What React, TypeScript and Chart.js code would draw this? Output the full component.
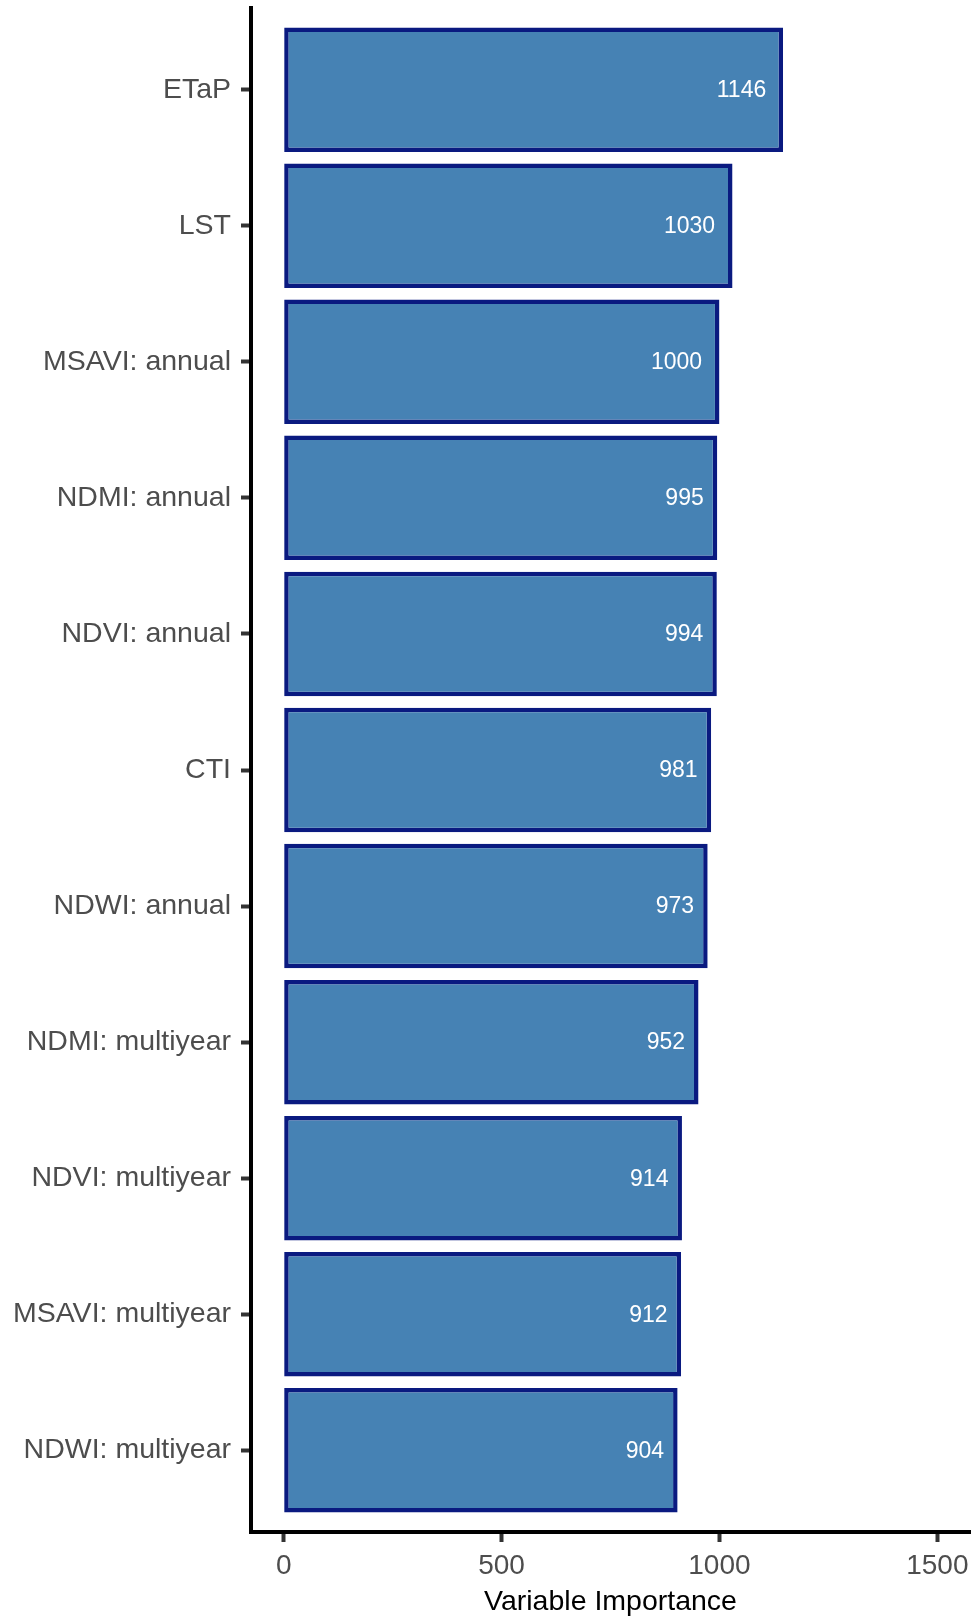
import React, { useEffect, useRef } from "react";
import { Chart, registerables } from "chart.js";

Chart.register(...registerables);

const categories = [
  "ETaP",
  "LST",
  "MSAVI: annual",
  "NDMI: annual",
  "NDVI: annual",
  "CTI",
  "NDWI: annual",
  "NDMI: multiyear",
  "NDVI: multiyear",
  "MSAVI: multiyear",
  "NDWI: multiyear",
];
const importance = [1146, 1030, 1000, 995, 994, 981, 973, 952, 914, 912, 904];
const xTicks = [0, 500, 1000, 1500];
const xTitle = "Variable Importance";

const FONT = "'Liberation Sans', Arial, Helvetica, sans-serif";

const valueLabels = {
  id: "valueLabels",
  afterDatasetsDraw(chart: any) {
    const ctx = chart.ctx;
    const meta = chart.getDatasetMeta(0);
    ctx.save();
    ctx.font = `23px ${FONT}`;
    ctx.fillStyle = "#ffffff";
    ctx.textAlign = "right";
    ctx.textBaseline = "middle";
    meta.data.forEach((bar: any, i: number) => {
      const txt = String(importance[i]);
      const w = ctx.measureText(txt).width;
      ctx.fillText(txt, bar.x - 0.3 * w - 2, bar.y + 1);
    });
    ctx.restore();
  },
};

export default function App() {
  const ref = useRef<HTMLCanvasElement | null>(null);
  useEffect(() => {
    if (!ref.current) return;
    const chart = new Chart(ref.current, {
      type: "bar",
      data: {
        datasets: [
          {
            data: importance.map((v, i) => ({ x: v, y: i })),
            backgroundColor: "#4682B4",
            borderColor: "#0a1a80",
            borderWidth: 4.5,
            borderSkipped: false,
            barPercentage: 0.915,
            categoryPercentage: 1.0,
          },
        ],
      },
      options: {
        indexAxis: "y",
        animation: false,
        responsive: true,
        maintainAspectRatio: false,
        layout: { padding: { top: 8, right: 1, left: 0, bottom: 0 } },
        plugins: {
          legend: { display: false },
          tooltip: { enabled: false },
        },
        scales: {
          y: {
            type: "linear",
            reverse: true,
            offset: false,
            min: -0.6,
            max: 10.6,
            afterBuildTicks: (scale: any) => {
              scale.ticks = categories.map((_, i) => ({ value: i }));
            },
            afterFit: (scale: any) => {
              scale.width = 251;
              scale.paddingTop = 0;
              scale.paddingBottom = 0;
            },
            ticks: {
              autoSkip: false,
              padding: 10,
              color: "#4d4d4d",
              font: { family: FONT, size: 28.5 },
              callback: (v: any) => categories[v as number] ?? "",
            },
            grid: {
              offset: false,
              drawOnChartArea: false,
              drawTicks: true,
              tickLength: 10,
              tickWidth: 4,
              tickColor: "#333333",
            },
            border: { display: true, color: "#000000", width: 4 },
          },
          x: {
            type: "linear",
            min: -75,
            max: 1575,
            afterBuildTicks: (scale: any) => {
              scale.ticks = xTicks.map((v) => ({ value: v }));
            },
            afterFit: (scale: any) => {
              scale.height = 84;
              scale.paddingLeft = 0;
              scale.paddingRight = 0;
            },
            ticks: {
              autoSkip: false,
              maxRotation: 0,
              padding: 7,
              color: "#4d4d4d",
              font: { family: FONT, size: 28 },
              callback: (v: any) => String(v),
            },
            grid: {
              drawOnChartArea: false,
              drawTicks: true,
              tickLength: 10,
              tickWidth: 4,
              tickColor: "#333333",
            },
            border: { display: true, color: "#000000", width: 4 },
            title: {
              display: true,
              text: xTitle,
              color: "#000000",
              font: { family: FONT, size: 28.5, lineHeight: 1.0 },
              padding: { top: 0, bottom: 0 },
            },
          },
        },
      },
      plugins: [valueLabels],
    });
    return () => chart.destroy();
  }, []);

  return (
    <div
      style={{
        position: "absolute",
        left: 0,
        top: 0,
        width: 971,
        height: 1616,
        background: "#ffffff",
      }}
    >
      <canvas ref={ref} />
    </div>
  );
}
